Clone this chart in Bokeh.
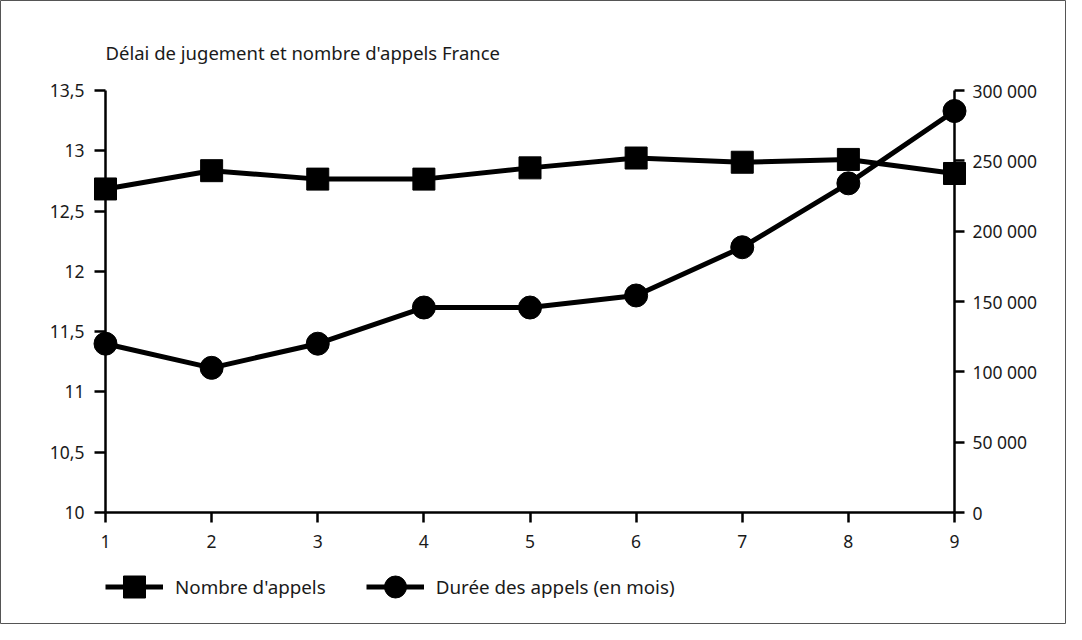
from bokeh.plotting import figure
from bokeh.models import Range1d, LinearAxis, FixedTicker, Legend, LegendItem, Label
from bokeh.embed import file_html
from bokeh.resources import INLINE

# ---- data ----
x_vals = [1, 2, 3, 4, 5, 6, 7, 8, 9]
nombre_appels = [230000, 243000, 237000, 237000, 245000, 252000, 249000, 251000, 241000]
duree_appels = [11.4, 11.2, 11.4, 11.7, 11.7, 11.8, 12.2, 12.73, 13.33]

left_ticks = [10, 10.5, 11, 11.5, 12, 12.5, 13, 13.5]
left_labels = ["10", "10,5", "11", "11,5", "12", "12,5", "13", "13,5"]
right_ticks = [0, 50000, 100000, 150000, 200000, 250000, 300000]
right_labels = ["0", "50 000", "100 000", "150 000", "200 000", "250 000", "300 000"]
x_ticks = [1, 2, 3, 4, 5, 6, 7, 8, 9]

title_text = "Délai de jugement et nombre d'appels France"
label_nombre = "Nombre d'appels"
label_duree = "Durée des appels (en mois)"

FONT = "Noto Sans"
TXT = "#1a1a1a"

# ---- layout (canvas pixels) ----
W, H = 1066, 624
PX_X0, PX_X1 = 105, 954      # canvas x of first / last x tick
PX_Y_TOP, PX_Y_BOT = 90, 512  # canvas y of top / bottom of the axes


def padded(lo, hi, px_lo, px_hi, px_total, flip=False):
    scale = (hi - lo) / (px_hi - px_lo)
    if flip:
        return Range1d(lo - (px_total - px_hi) * scale, hi + px_lo * scale)
    return Range1d(lo - px_lo * scale, hi + (px_total - px_hi) * scale)


x_range = padded(x_ticks[0], x_ticks[-1], PX_X0, PX_X1, W)
y_range = padded(left_ticks[0], left_ticks[-1], PX_Y_TOP, PX_Y_BOT, H, flip=True)
yr_right = padded(right_ticks[0], right_ticks[-1], PX_Y_TOP, PX_Y_BOT, H, flip=True)

p = figure(width=W, height=H, output_backend="svg", toolbar_location=None,
           x_range=x_range, y_range=y_range,
           min_border=0, min_border_left=0, min_border_right=0,
           min_border_top=0, min_border_bottom=0)
p.extra_y_ranges = {"right": yr_right}
p.grid.visible = False
p.outline_line_color = "#555555"
p.outline_line_width = 1
p.background_fill_color = "white"
p.border_fill_color = "white"


def style_axis(ax):
    ax.axis_line_width = 2.5
    ax.axis_line_color = "black"
    ax.major_tick_line_width = 2.5
    ax.major_tick_line_color = "black"
    ax.major_tick_in = 0
    ax.minor_tick_line_color = None
    ax.major_label_text_font = FONT
    ax.major_label_text_font_size = "17.5px"
    ax.major_label_text_color = TXT


# left axis
ly = p.yaxis[0]
ly.ticker = FixedTicker(ticks=left_ticks)
ly.major_label_overrides = {t: l for t, l in zip(left_ticks, left_labels)}
ly.fixed_location = x_ticks[0]
ly.bounds = (left_ticks[0], left_ticks[-1])
style_axis(ly)
ly.major_tick_out = 11
ly.major_label_standoff = 10

# right axis
ry = LinearAxis(y_range_name="right", fixed_location=x_ticks[-1],
                bounds=(right_ticks[0], right_ticks[-1]),
                ticker=FixedTicker(ticks=right_ticks))
ry.major_label_overrides = {t: l for t, l in zip(right_ticks, right_labels)}
style_axis(ry)
ry.major_tick_out = 10
ry.major_label_standoff = 8
p.add_layout(ry, "right")

# x axis
xa = p.xaxis[0]
xa.ticker = FixedTicker(ticks=x_ticks)
xa.bounds = (x_ticks[0], x_ticks[-1])
xa.fixed_location = left_ticks[0]
style_axis(xa)
xa.major_tick_out = 10
xa.major_label_standoff = 12

# series
l1 = p.line(x_vals, nombre_appels, y_range_name="right", line_width=5, line_color="black")
s1 = p.scatter(x_vals, nombre_appels, y_range_name="right", marker="square", size=22,
               fill_color="black", line_color="black")
l2 = p.line(x_vals, duree_appels, line_width=5, line_color="black")
s2 = p.scatter(x_vals, duree_appels, marker="circle", size=23,
               fill_color="black", line_color="black")

legend = Legend(items=[LegendItem(label=label_nombre, renderers=[l1, s1]),
                       LegendItem(label=label_duree, renderers=[l2, s2])],
                orientation="horizontal", location=(PX_X0, 10),
                glyph_width=58, glyph_height=55, label_standoff=12, spacing=40,
                padding=0, margin=0, border_line_color=None,
                background_fill_alpha=0,
                label_text_font=FONT, label_text_font_size="18.8px",
                label_text_color=TXT)
p.add_layout(legend, "center")

title = Label(x=x_ticks[0], y=left_ticks[-1], y_offset=38, text=title_text,
              text_font=FONT, text_font_size="18.5px", text_color=TXT,
              text_align="left", text_baseline="middle")
p.add_layout(title)

open("out.html", "w").write(file_html(p, INLINE))
